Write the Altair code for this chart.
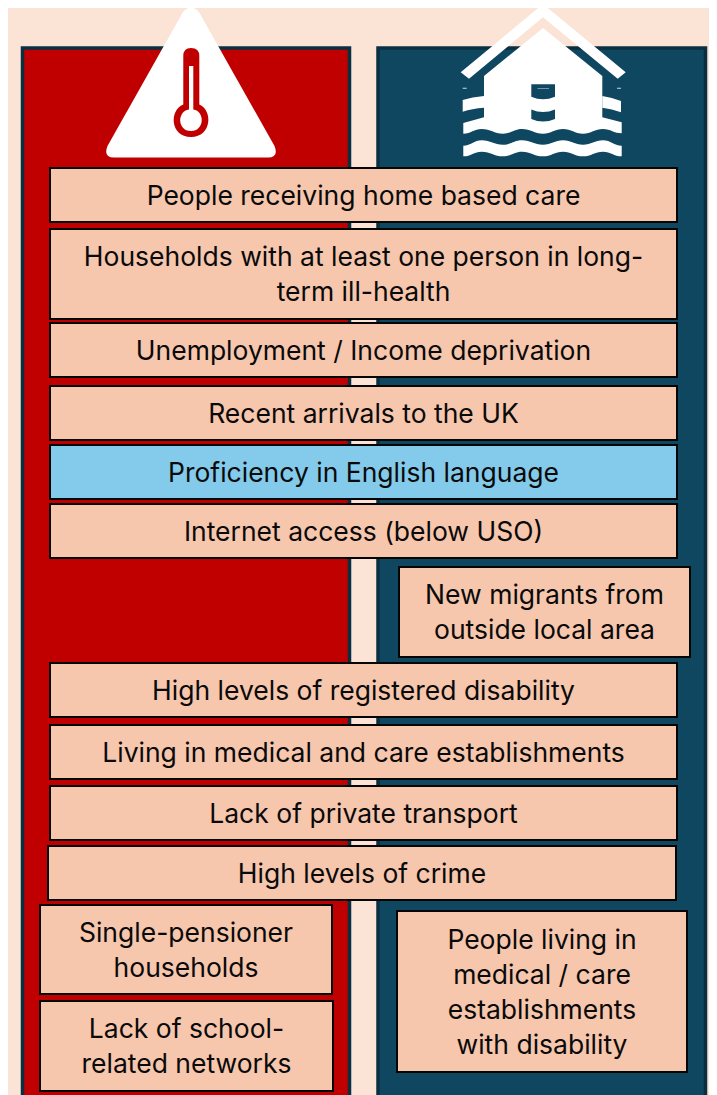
import altair as alt
import pandas as pd

# Labels and layout of the boxes, in the reference picture's units
labels = ["People receiving home based care",
          "Households with at least one person in long-\nterm ill-health",
          "Unemployment / Income deprivation",
          "Recent arrivals to the UK",
          "Proficiency in English language",
          "Internet access (below USO)",
          "New migrants from\noutside local area",
          "High levels of registered disability",
          "Living in medical and care establishments",
          "Lack of private transport",
          "High levels of crime",
          "Single-pensioner\nhouseholds",
          "Lack of school-\nrelated networks",
          "People living in\nmedical / care\nestablishments\nwith disability"]
box_left = [50, 50, 50, 50, 50, 50, 399, 50, 50, 50, 48, 40, 40, 397]
box_right = [677, 677, 677, 677, 677, 677, 690, 677, 677, 677, 676, 332, 333, 687]
box_top = [168, 229, 323, 386, 445, 504, 567, 663, 725, 786, 846, 905, 1001, 911]
box_bottom = [222, 319, 377, 440, 499, 558, 657, 717, 779, 840, 900, 994, 1091, 1072]
box_kind = ["a", "a", "a", "a", "b", "a", "a", "a", "a", "a", "a", "a", "a", "a"]

panel_left = [22.5, 378]
panel_right = [349.5, 705.5]
panel_top = [48, 48]
panel_bottom = [1120, 1120]
panel_fill = ["#C00000", "#0F4761"]

BG = "#FBE3D6"
WIDTH, HEIGHT = 701, 1087
LINE = 35
xs = alt.Scale(domain=[8, 8 + WIDTH])
ys = alt.Scale(domain=[8 + HEIGHT, 8])


def wave(points):
    """Smooth path through a list of wave crests and troughs."""
    out = ""
    for (x0, y0), (x1, y1) in zip(points, points[1:]):
        d = (x1 - x0) * 0.42
        out += f"C{x0 + d} {y0} {x1 - d} {y1} {x1} {y1} "
    return out


triangle = ("M183 12 Q191 3 199 12 L274.5 146 Q279 157.5 268 157.5 "
            "L114 157.5 Q103 157.5 107.5 146 Z")
therm_red = ("M183.3 56 Q183.3 48 191 48 Q199.3 48 199.3 56 L199.3 104.5 "
             "C213 110 212 137 191 137 C170 137 169 110 183.3 104.5 Z")
therm_white = ("M189 66 L193.3 66 L193.3 109.5 C205 111 205 131 191 131 "
               "C177 131 177 111 189 109.5 Z")
roof = "M543 4 L625.7 72.3 L617.7 78.7 L543 17.3 L469 78.7 L460.7 72.3 Z"

crest_x = [463.3, 481.7, 503, 522, 543, 563, 583, 603, 621.7]
wave_low = list(zip(crest_x[::-1], [133.3, 129, 133.7, 129, 133.7, 129, 133.7, 129, 133.7]))
house = ("M543 28 L602.3 76 L602.3 117.3 L621.7 122.3 L621.7 133.3 " + wave(wave_low)
         + "L463.3 123 L484 117.3 L484 76 Z")
band_left = "M462.7 100 Q472 97 484 96 L484 107.7 Q472 108.5 462.7 111.7 Z"
band_right = "M602.3 96 Q612 97.5 621 101 L621 112.3 Q612 109 602.3 107.7 Z"
b_top = list(zip(crest_x, [145.7, 140.3, 144.7, 140.3, 144.7, 140.3, 144.7, 140.3, 145.7]))
b_bottom = list(zip(crest_x[::-1], [156.3, 151.7, 156.3, 151.7, 156.3, 151.7, 156.3, 151.7, 156.3]))
bottom_band = f"M463.3 145.7 {wave(b_top)}L621.7 156.3 {wave(b_bottom)}Z"
window_top = "M531.3 84.3 L555 84.3 L555 96.7 Q543 102 531.3 96.7 Z"
window_low = "M531.3 109.5 Q543 114.5 555 109.5 L555 119 Q543 124 531.3 119 Z"
dash_left = "M462.7 87.8 L466.7 87.8 L466.7 88.6 L462.7 88.6 Z"
dash_right = "M617 87.8 L621 87.8 L621 88.6 L617 88.6 Z"
dash_window = "M537.5 88 L549 88 L549 88.7 L537.5 88.7 Z"

icon_shapes = [(triangle, "white"), (therm_red, "#C00000"), (therm_white, "white"),
               (roof, "white"), (house, "white"), (band_left, "white"), (band_right, "white"),
               (bottom_band, "white"), (window_top, "#0F4761"), (window_low, "#0F4761"),
               (dash_left, "white"), (dash_right, "white"), (dash_window, "#9FB8C4")]

panels = pd.DataFrame({"l": panel_left, "r": panel_right, "t": panel_top,
                       "b": panel_bottom, "fill": panel_fill})
boxes = pd.DataFrame({"label": labels, "l": box_left, "r": box_right, "t": box_top,
                      "b": box_bottom, "kind": box_kind})
boxes["cx"] = (boxes.l + boxes.r) / 2
line_count = boxes.label.str.count("\n")
boxes["cy"] = (boxes.t + boxes.b) / 2 + 1.5 - line_count * LINE / 2

panel_layer = alt.Chart(panels).mark_rect(stroke="#0A2F41", strokeWidth=3.5).encode(
    x=alt.X("l:Q", scale=xs, axis=None), x2="r:Q",
    y=alt.Y("t:Q", scale=ys, axis=None), y2="b:Q",
    fill=alt.Fill("fill:N", scale=None, legend=None))

origin = pd.DataFrame({"x": [0], "y": [0]})
icon_layers = [
    alt.Chart(origin).mark_point(shape=p, size=4, filled=True, fill=c, opacity=1,
                                 strokeWidth=0, clip=False).encode(
        x=alt.X("x:Q", scale=xs, axis=None),
        y=alt.Y("y:Q", scale=ys, axis=None))
    for p, c in icon_shapes
]

box_layer = alt.Chart(boxes).mark_rect(stroke="#050505", strokeWidth=2).encode(
    x=alt.X("l:Q", scale=xs, axis=None), x2="r:Q",
    y=alt.Y("t:Q", scale=ys, axis=None), y2="b:Q",
    fill=alt.Fill("kind:N", scale=alt.Scale(domain=["a", "b"], range=["#F6C6AD", "#83CAEB"]),
                  legend=None))

text_layer = alt.Chart(boxes).transform_calculate(
    lines="split(datum.label, '\\n')"
).mark_text(font="Inter", fontSize=26.5, color="#0A0A0A", lineHeight=LINE,
            align="center", baseline="middle").encode(
    x=alt.X("cx:Q", scale=xs, axis=None),
    y=alt.Y("cy:Q", scale=ys, axis=None),
    text="lines:N")

chart = alt.layer(panel_layer, *icon_layers, box_layer, text_layer).properties(
    width=WIDTH, height=HEIGHT, background=BG, padding=0,
    autosize=alt.AutoSizeParams(type="none")
).configure_view(stroke=None)

chart.save("out.html", embed_options={"renderer": "svg", "actions": False})
